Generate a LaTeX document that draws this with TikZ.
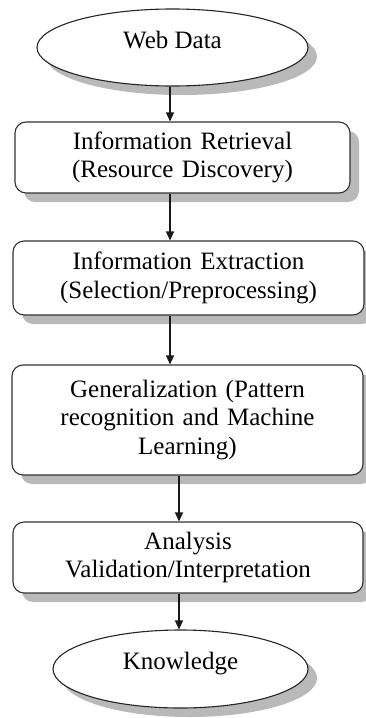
\documentclass[tikz,border=0pt]{standalone}
\usepackage{fontspec}
\setmainfont{Liberation Serif}
\usetikzlibrary{shapes.geometric,shadows,arrows.meta}
\begin{document}
\begin{tikzpicture}[x=1pt,y=-1pt,
  shad/.style={drop shadow={shadow xshift=9pt,shadow yshift=-9pt,fill=gray!55,opacity=1}},
  txt/.style={font=\fontsize{25pt}{28.5pt}\selectfont,text=black},
  oval/.style={ellipse,draw=black!85,line width=1.1pt,fill=white,shad,txt,inner sep=0pt,
    text height=17pt,text depth=16pt},
  stepbox/.style={rectangle,rounded corners=11pt,draw=black!80,line width=1.1pt,fill=white,shad,txt,
    align=center,inner sep=0pt,text width=345pt},
  arr/.style={line width=1.1pt,draw=black!90,-{Triangle[length=9pt,width=8pt]}}]
\useasboundingbox (0,0) rectangle (366,718);
\node[oval,minimum width=271pt,minimum height=77pt] (wd) at (172.5,47.5) {Web Data};
\node[stepbox,minimum width=335pt,minimum height=71pt,text width=330pt] (b1) at (182.5,157.5)
  {Information Retrieval\\(Resource Discovery)};
\node[stepbox,minimum width=351pt,minimum height=74pt] (b2) at (188.5,278)
  {Information Extraction\\(Selection/Preprocessing)};
\node[stepbox,minimum width=351pt,minimum height=110pt] (b3) at (187.5,420)
  {Generalization (Pattern\\recognition and Machine\\Learning)};
\node[stepbox,minimum width=350pt,minimum height=71pt] (b4) at (188,557.5)
  {Analysis\\Validation/Interpretation};
\node[oval,minimum width=255pt,minimum height=78pt,text height=17pt,text depth=17pt] (kn) at (180.5,669) {Knowledge};
\coordinate (c1) at (170,0);
\coordinate (c2) at (179,0);
\draw[arr] (c1 |- wd.south) -- (c1 |- b1.north);
\draw[arr] (c1 |- b1.south) -- (c1 |- b2.north);
\draw[arr] (c1 |- b2.south) -- (c1 |- b3.north);
\draw[arr] (c2 |- b3.south) -- (c2 |- b4.north);
\draw[arr] (c2 |- b4.south) -- (c2 |- kn.north);
\end{tikzpicture}
\end{document}
